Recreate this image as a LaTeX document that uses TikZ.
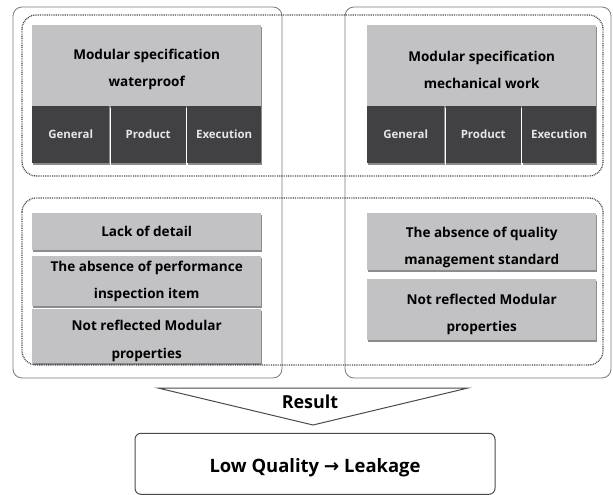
\documentclass[tikz,border=0pt]{standalone}
\usepackage{fontspec}
\setmainfont{Open Sans}
\newfontfamily\arrowfont{DejaVu Sans}
\usetikzlibrary{shadows}
\definecolor{boxgray}{HTML}{C2C2C4}
\definecolor{cellgray}{HTML}{414143}
\definecolor{celltext}{HTML}{E6E6E6}
\definecolor{framegray}{HTML}{7A7A7A}
\definecolor{dotgray}{HTML}{4A4A4A}
% tall strut on a first line pushes a centred text block slightly down
\newcommand\firstline{\rule{0pt}{20bp}}
\begin{document}
\begin{tikzpicture}[x=1bp,y=-1bp,
  frame/.style={draw=framegray, line width=0.8bp, rounded corners=9bp},
  dotframe/.style={draw=dotgray, line width=1.3bp, dash pattern=on 0.9bp off 0.9bp, rounded corners=14bp},
  shade/.style={drop shadow={shadow xshift=0.6bp, shadow yshift=-1.8bp, opacity=0.45, fill=black}},
  hdr/.style={fill=boxgray, shade, anchor=north west, inner sep=0pt, align=center,
    font=\bfseries\fontsize{13.6}{27}\selectfont},
  cell/.style={fill=cellgray, shade, anchor=north west, inner sep=0pt, align=center,
    text=celltext, font=\bfseries\fontsize{11.5}{13}\selectfont},
  issue/.style={fill=boxgray, shade, anchor=north west, inner sep=0pt, align=center,
    font=\bfseries\fontsize{13.6}{27.5}\selectfont}]
\useasboundingbox (0,0) rectangle (613,495);

% solid outer frames of the two specification columns
\draw[frame] (13,7) rectangle (282,378);
\draw[frame] (345,7) rectangle (611,378);

% dotted frames grouping the specification row and the problem row
\draw[dotframe] (22,15) rectangle (603,176);
\draw[dotframe] (22,198) rectangle (603,365);

% waterproof specification
\node[hdr, minimum width=229bp, minimum height=81bp] (lh) at (32,25)
  {\rule{0pt}{18bp}Modular specification\\waterproof};
\node[cell, minimum width=77bp, minimum height=57bp] (lg) at (32,106) {General};
\node[cell, minimum width=75bp, minimum height=57bp] (lp) at (110.5,106) {Product};
\node[cell, minimum width=74bp, minimum height=57bp] (le) at (187,106) {Execution};

% mechanical work specification
\node[hdr, minimum width=229bp, minimum height=81bp] (rh) at (367,25)
  {\rule{0pt}{18bp}Modular specification\\mechanical work};
\node[cell, minimum width=77bp, minimum height=57bp] (rg) at (367,106) {General};
\node[cell, minimum width=75bp, minimum height=57bp] (rp) at (445.5,106) {Product};
\node[cell, minimum width=74bp, minimum height=57bp] (re) at (522,106) {Execution};

% problems found in the waterproof specification
\node[issue, minimum width=229bp, minimum height=37bp] (l1) at (32,213) {Lack of detail};
\node[issue, minimum width=229bp, minimum height=50bp] (l2) at (32,256)
  {The absence of performance\\inspection item};
\node[issue, minimum width=229bp, minimum height=54bp] (l3) at (32,309)
  {\firstline Not reflected Modular\\properties};

% problems found in the mechanical work specification
\node[issue, minimum width=229bp, minimum height=57bp] (r1) at (367,213)
  {\rule{0pt}{22bp}The absence of quality\\management standard};
\node[issue, minimum width=229bp, minimum height=61bp] (r2) at (367,279)
  {\firstline Not reflected Modular\\properties};

% result funnel and outcome
\draw[draw=dotgray, line width=1bp, fill=white, line join=miter] (158,388) -- (468,388) -- (313,425) -- cycle;
\node[font=\bfseries\fontsize{18}{20}\selectfont] (res) at (310,402) {Result};
\node[draw=dotgray, line width=1bp, rounded corners=6bp, minimum width=360bp, minimum height=61bp,
  font=\bfseries\fontsize{18.5}{21}\selectfont] (out) at (315,463.8)
  {\rule{0pt}{22bp}Low Quality {\arrowfont\bfseries →} Leakage};
\end{tikzpicture}
\end{document}
